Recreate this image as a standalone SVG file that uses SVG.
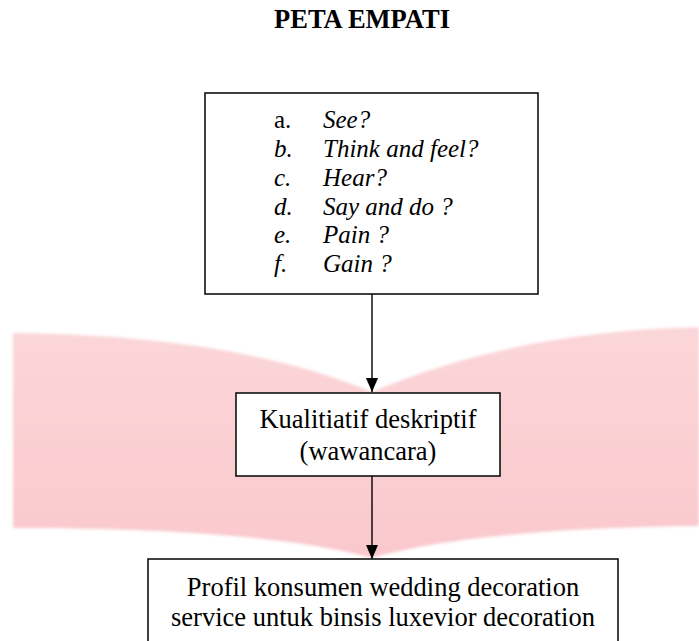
<svg xmlns="http://www.w3.org/2000/svg" width="699" height="641" viewBox="0 0 699 641">
<defs>
<style>
.box{fill:#fff;stroke:#111;stroke-width:1.6}
.t{font-family:"Liberation Serif","Times New Roman",serif;fill:#000}
.title{font-size:26.5px;font-weight:bold}
.body{font-size:26.5px}
.list{font-size:25px}
.it{font-style:italic}
.conn{stroke:#000;stroke-width:1.4;fill:none}
</style>
<marker id="ah" viewBox="0 0 14 12" refX="14" refY="6" markerWidth="14" markerHeight="12" markerUnits="userSpaceOnUse" orient="auto">
<path d="M0,0 L14,6 L0,12 Z" fill="#000"/>
</marker>
<linearGradient id="pk" x1="0" y1="0" x2="0" y2="1">
<stop offset="0" stop-color="#FBD6D9"/>
<stop offset="1" stop-color="#F9C8CC"/>
</linearGradient>
<filter id="soft" x="-5%" y="-5%" width="110%" height="110%">
<feGaussianBlur stdDeviation="1.5"/>
</filter>
</defs>
<rect width="699" height="641" fill="#fff"/>
<path id="watermark" d="M13,333 C120,334 260,345 372,392 C470,350 580,330 699,327 L699,526 C560,527 440,538 372,558 C300,538 180,528 13,528 Z" fill="url(#pk)" filter="url(#soft)"/>
<text class="t title" x="362" y="28" text-anchor="middle">PETA EMPATI</text>
<g id="connectors">
<line class="conn" x1="372" y1="294" x2="372" y2="392" marker-end="url(#ah)"/>
<line class="conn" x1="372" y1="476" x2="372" y2="559" marker-end="url(#ah)"/>
</g>
<g id="node-empathy">
<rect class="box" x="205" y="93" width="333" height="201"/>
<text class="t list" x="274" y="128">a.</text>
<text class="t list it" x="323" y="128">See?</text>
<text class="t list it" x="274" y="157">b.</text>
<text class="t list it" x="323" y="157">Think and feel?</text>
<text class="t list it" x="274" y="186">c.</text>
<text class="t list it" x="323" y="186">Hear?</text>
<text class="t list it" x="274" y="215">d.</text>
<text class="t list it" x="323" y="215">Say and do ?</text>
<text class="t list it" x="274" y="243">e.</text>
<text class="t list it" x="323" y="243">Pain ?</text>
<text class="t list it" x="274" y="272">f.</text>
<text class="t list it" x="323" y="272">Gain ?</text>
</g>
<g id="node-method">
<rect class="box" x="236" y="393" width="264" height="83"/>
<text class="t body" x="368" y="428" text-anchor="middle">Kualitiatif deskriptif</text>
<text class="t body" x="368" y="460" text-anchor="middle">(wawancara)</text>
</g>
<g id="node-profile">
<rect class="box" x="148" y="559" width="470" height="95"/>
<text class="t body" x="383" y="596" text-anchor="middle">Profil konsumen wedding decoration</text>
<text class="t body" x="383" y="626" text-anchor="middle">service untuk binsis luxevior decoration</text>
</g>
</svg>
